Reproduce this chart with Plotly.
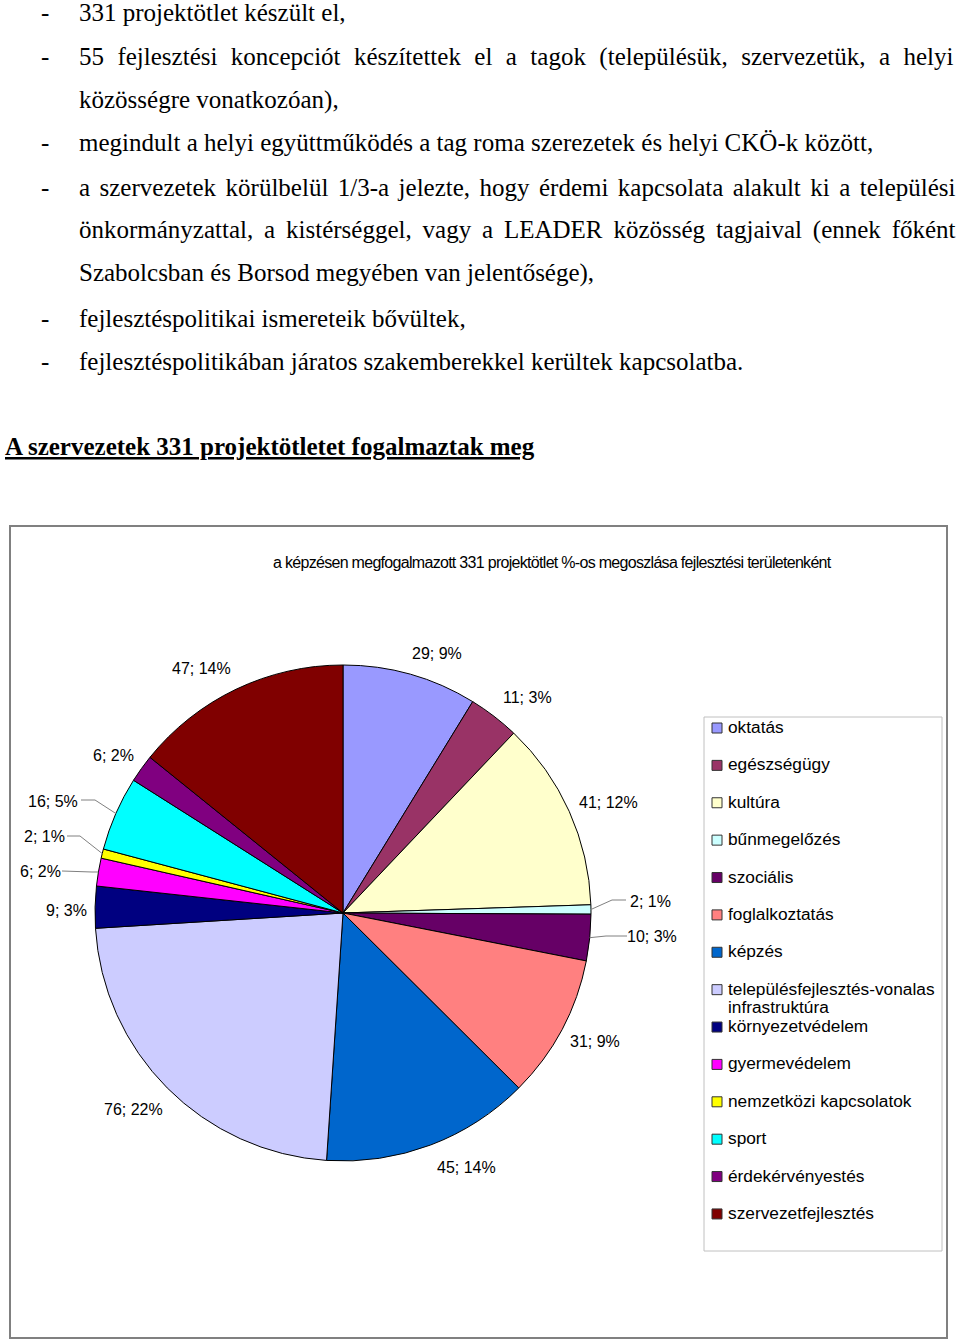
import math
import plotly.graph_objects as go

W, H = 960, 1339

# ---------------- data ----------------
categories = ["oktatás", "egészségügy", "kultúra", "bűnmegelőzés", "szociális",
              "foglalkoztatás", "képzés", "településfejlesztés-vonalas infrastruktúra",
              "környezetvédelem", "gyermevédelem", "nemzetközi kapcsolatok", "sport",
              "érdekérvényestés", "szervezetfejlesztés"]
values = [29, 11, 41, 2, 10, 31, 45, 76, 9, 6, 2, 16, 6, 47]
percent_labels = ["9%", "3%", "12%", "1%", "3%", "9%", "14%", "22%", "3%", "2%", "1%", "5%", "2%", "14%"]

colors = ["#9999FF", "#993366", "#FFFFCC", "#CCFFFF", "#660066", "#FF8080", "#0066CC",
          "#CCCCFF", "#000080", "#FF00FF", "#FFFF00", "#00FFFF", "#800080", "#800000"]

chart_title = "a képzésen megfogalmazott 331 projektötlet %-os megoszlása fejlesztési területenként"
heading = "A szervezetek 331 projektötletet fogalmaztak meg"

# body text lines: (bullet?, text)
body_lines = [
    (True, "331 projektötlet készült el,"),
    (True, "55 fejlesztési koncepciót készítettek el a tagok (településük, szervezetük, a helyi"),
    (False, "közösségre vonatkozóan),"),
    (True, "megindult a helyi együttműködés a tag roma szerezetek és helyi CKÖ-k között,"),
    (True, "a szervezetek körülbelül 1/3-a jelezte, hogy érdemi kapcsolata alakult ki a települési"),
    (False, "önkormányzattal, a kistérséggel, vagy a LEADER közösség tagjaival (ennek főként"),
    (False, "Szabolcsban és Borsod megyében van jelentősége),"),
    (True, "fejlesztéspolitikai ismereteik bővültek,"),
    (True, "fejlesztéspolitikában járatos szakemberekkel kerültek kapcsolatba."),
]

# ---------------- layout constants ----------------
body_y = [13, 57, 100, 143, 187, 230, 273, 318, 361]
word_spacing = [0, 7.2, 0, 0, 3.2, 4.6, 0, 0, 0]   # emulates justified lines
body_size = 25
body_x, dash_x = 77, 39

pie_cx, pie_cy, pie_r = 343, 913, 248

label_xy = [(437, 653), (527, 697), (608, 802), (650, 901), (652, 936), (595, 1041),
            (466, 1167), (133, 1109), (66, 910), (40, 871), (44, 836), (53, 801),
            (113, 755), (201, 668)]
leaders = {3: [(612, 900), (626, 900)],
           4: [(606, 936), (627, 936)],
           9: [(92, 872), (62, 871)],
           10: [(80, 836), (67, 836)],
           11: [(95, 800), (81, 800)]}

legend_x0, legend_y0, legend_x1, legend_y1 = 704, 717, 942, 1251
legend_first, legend_step = 728, 37.38
legend_wrap_gap = 18


def X(px):
    return px / W


def Y(py):
    return 1 - py / H


fig = go.Figure()
fig.add_trace(go.Pie(
    values=values, labels=categories, sort=False, direction="clockwise", rotation=0,
    marker=dict(colors=colors, line=dict(color="black", width=1)),
    textinfo="none", showlegend=False, hoverinfo="label+value+percent",
    domain=dict(x=[X(pie_cx - pie_r), X(pie_cx + pie_r)],
                y=[Y(pie_cy + pie_r), Y(pie_cy - pie_r)]),
))

annotations = []
shapes = []

serif = "Liberation Serif, Times New Roman, serif"
sans = "Liberation Sans, Arial, sans-serif"

# body text
for (bullet, text), y, ws in zip(body_lines, body_y, word_spacing):
    if bullet:
        annotations.append(dict(x=X(dash_x), y=Y(y), xref="paper", yref="paper", text="-",
                                showarrow=False, xanchor="left", yanchor="middle",
                                font=dict(family=serif, size=body_size, color="black")))
    t = text
    if ws:
        t = f'<span style="word-spacing:{ws}px">{text}</span>'
    annotations.append(dict(x=X(body_x), y=Y(y), xref="paper", yref="paper", text=t,
                            showarrow=False, xanchor="left", yanchor="middle",
                            font=dict(family=serif, size=body_size, color="black")))

# heading
annotations.append(dict(x=X(3), y=Y(447), xref="paper", yref="paper", text=f"<b>{heading}</b>",
                        showarrow=False, xanchor="left", yanchor="middle",
                        font=dict(family=serif, size=25, color="black", lineposition="under")))

# chart frame
shapes.append(dict(type="rect", xref="paper", yref="paper", x0=X(10), y0=Y(526), x1=X(947), y1=Y(1338),
                   line=dict(color="#808080", width=2), fillcolor="rgba(0,0,0,0)", layer="below"))

# chart title
annotations.append(dict(x=X(552), y=Y(562), xref="paper", yref="paper",
                        text=f'<span style="letter-spacing:-0.7px">{chart_title}</span>',
                        showarrow=False, xanchor="center", yanchor="middle",
                        font=dict(family=sans, size=16, color="black")))

# slice labels + leader lines
total = sum(values)
cum = 0
for i, (v, p) in enumerate(zip(values, percent_labels)):
    mid = (cum + v / 2) / total * 2 * math.pi
    cum += v
    lx, ly = label_xy[i]
    annotations.append(dict(x=X(lx), y=Y(ly), xref="paper", yref="paper", text=f"{v}; {p}",
                            showarrow=False, xanchor="center", yanchor="middle",
                            font=dict(family=sans, size=16, color="black")))
    if i in leaders:
        ex = pie_cx + pie_r * math.sin(mid)
        ey = pie_cy - pie_r * math.cos(mid)
        pts = [(ex, ey)] + leaders[i]
        for (ax, ay), (bx, by) in zip(pts[:-1], pts[1:]):
            shapes.append(dict(type="line", xref="paper", yref="paper",
                               x0=X(ax), y0=Y(ay), x1=X(bx), y1=Y(by),
                               line=dict(color="#808080", width=1)))

# legend
shapes.append(dict(type="rect", xref="paper", yref="paper", x0=X(legend_x0), y0=Y(legend_y0),
                   x1=X(legend_x1), y1=Y(legend_y1), line=dict(color="#c0c0c0", width=1),
                   fillcolor="rgba(0,0,0,0)"))
for i, (name, c) in enumerate(zip(categories, colors)):
    yc = legend_first + i * legend_step
    shapes.append(dict(type="rect", xref="paper", yref="paper", x0=X(712), y0=Y(yc - 5),
                       x1=X(722), y1=Y(yc + 5), fillcolor=c, line=dict(color="#333333", width=1)))
    parts = name.replace("-vonalas ", "-vonalas\n").split("\n")
    for k, part in enumerate(parts):
        annotations.append(dict(x=X(727), y=Y(yc - 1 + k * legend_wrap_gap), xref="paper", yref="paper",
                                text=part, showarrow=False, xanchor="left", yanchor="middle",
                                align="left", borderpad=0,
                                font=dict(family=sans, size=17.3, color="black")))

fig.update_layout(width=W, height=H, margin=dict(l=0, r=0, t=0, b=0),
                  paper_bgcolor="white", plot_bgcolor="white",
                  annotations=annotations, shapes=shapes)

fig.write_html("out.html", config={"displayModeBar": False},
               post_script="document.body.style.margin='0px';"
                           "document.documentElement.style.overflow='hidden';")
